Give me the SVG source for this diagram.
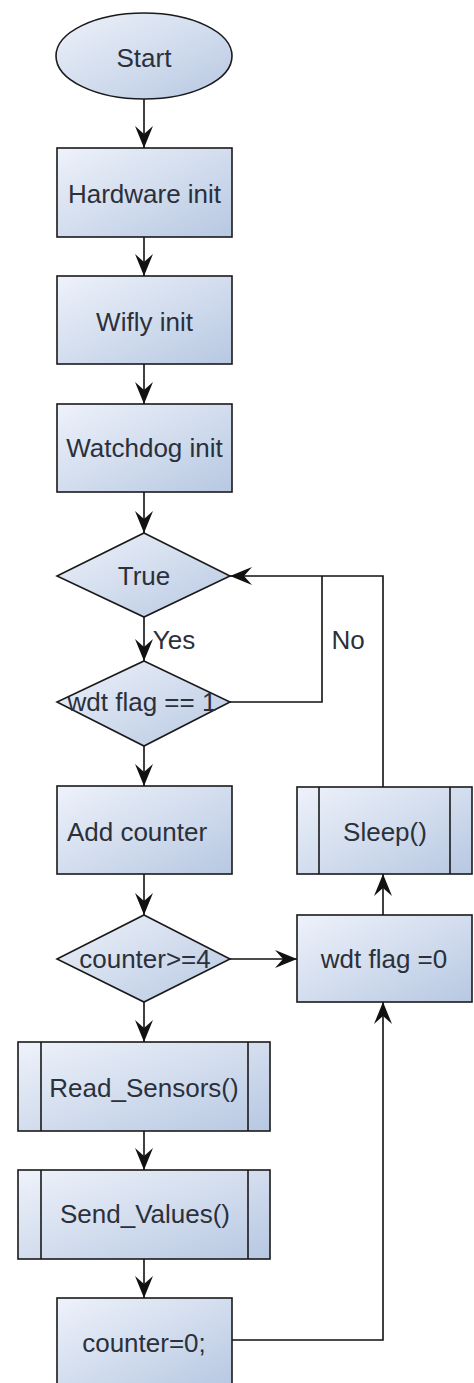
<svg xmlns="http://www.w3.org/2000/svg" width="474" height="1383" viewBox="0 0 474 1383">
  <defs>
    <linearGradient id="fill" x1="0" y1="0" x2="1" y2="1">
      <stop offset="0" stop-color="#eef2fa"/>
      <stop offset="1" stop-color="#b7c8e2"/>
    </linearGradient>
    <marker id="arrow" markerUnits="userSpaceOnUse" markerWidth="24" markerHeight="20" viewBox="-23 -10 24 20" refX="0" refY="0" orient="auto">
      <path d="M0,0 L-22,-9 L-14,0 L-22,9 Z" fill="#111"/>
    </marker>
  </defs>
  <style>
    .shape { fill: url(#fill); stroke: #1a1a1a; stroke-width: 1.6; }
    .bar { fill: none; stroke: #1a1a1a; stroke-width: 1.6; }
    .label { font-family: "Liberation Sans", Arial, sans-serif; font-size: 26px; fill: #2b303a; text-anchor: middle; }
    .edge { fill: none; stroke: #111; stroke-width: 1.6; }
    .arrowed { marker-end: url(#arrow); }
  </style>
  <rect width="474" height="1383" fill="#ffffff"/>

  <!-- connectors -->
  <g id="connectors">
    <path class="edge arrowed" d="M144,99 L144,148"/>
    <path class="edge arrowed" d="M144,237 L144,276"/>
    <path class="edge arrowed" d="M144,364 L144,404"/>
    <path class="edge arrowed" d="M144,492 L144,533"/>
    <path class="edge arrowed" d="M144,617 L144,661"/>
    <path class="edge" d="M230,702 L322,702 L322,576"/>
    <path class="edge arrowed" d="M383,787 L383,576 L230,576"/>
    <path class="edge arrowed" d="M144,746 L144,786"/>
    <path class="edge arrowed" d="M144,874 L144,915"/>
    <path class="edge arrowed" d="M230,959 L297,959"/>
    <path class="edge arrowed" d="M383,915 L383,874"/>
    <path class="edge arrowed" d="M144,1002 L144,1042"/>
    <path class="edge arrowed" d="M144,1131 L144,1170"/>
    <path class="edge arrowed" d="M144,1259 L144,1298"/>
    <path class="edge arrowed" d="M232,1340 L383,1340 L383,1002"/>
    <text class="label" x="174" y="649">Yes</text>
    <text class="label" x="348" y="649">No</text>
  </g>

  <g id="start">
    <ellipse class="shape" cx="144" cy="56" rx="88" ry="43"/>
    <text class="label" x="144" y="67">Start</text>
  </g>

  <g id="hardware-init">
    <rect class="shape" x="57" y="148" width="175" height="89"/>
    <text class="label" x="144.5" y="203">Hardware init</text>
  </g>

  <g id="wifly-init">
    <rect class="shape" x="57" y="276" width="175" height="88"/>
    <text class="label" x="144.5" y="331">Wifly init</text>
  </g>

  <g id="watchdog-init">
    <rect class="shape" x="57" y="404" width="175" height="88"/>
    <text class="label" x="144.5" y="457">Watchdog init</text>
  </g>

  <g id="loop-true">
    <path class="shape" d="M144,533 L230,576 L144,617 L57,576 Z"/>
    <text class="label" x="144" y="585">True</text>
  </g>

  <g id="wdt-flag-check">
    <path class="shape" d="M144,661 L230,702 L144,746 L57,702 Z"/>
    <text class="label" x="142" y="711">wdt flag == 1</text>
  </g>

  <g id="add-counter">
    <rect class="shape" x="57" y="786" width="175" height="88"/>
    <text class="label" x="137" y="841">Add counter</text>
  </g>

  <g id="sleep">
    <rect class="shape" x="297" y="787" width="175" height="87"/>
    <path class="bar" d="M319,787 L319,874 M450,787 L450,874"/>
    <text class="label" x="385" y="841">Sleep()</text>
  </g>

  <g id="counter-check">
    <path class="shape" d="M144,915 L230,959 L144,1002 L57,959 Z"/>
    <text class="label" x="145" y="968">counter&gt;=4</text>
  </g>

  <g id="wdt-flag-reset">
    <rect class="shape" x="297" y="915" width="175" height="87"/>
    <text class="label" x="384" y="968">wdt flag =0</text>
  </g>

  <g id="read-sensors">
    <rect class="shape" x="18" y="1042" width="252" height="89"/>
    <path class="bar" d="M41,1042 L41,1131 M248,1042 L248,1131"/>
    <text class="label" x="144" y="1097">Read_Sensors()</text>
  </g>

  <g id="send-values">
    <rect class="shape" x="18" y="1170" width="252" height="89"/>
    <path class="bar" d="M41,1170 L41,1259 M248,1170 L248,1259"/>
    <text class="label" x="145" y="1223">Send_Values()</text>
  </g>

  <g id="counter-reset">
    <rect class="shape" x="57" y="1298" width="175" height="89"/>
    <text class="label" x="144" y="1352">counter=0;</text>
  </g>
</svg>
